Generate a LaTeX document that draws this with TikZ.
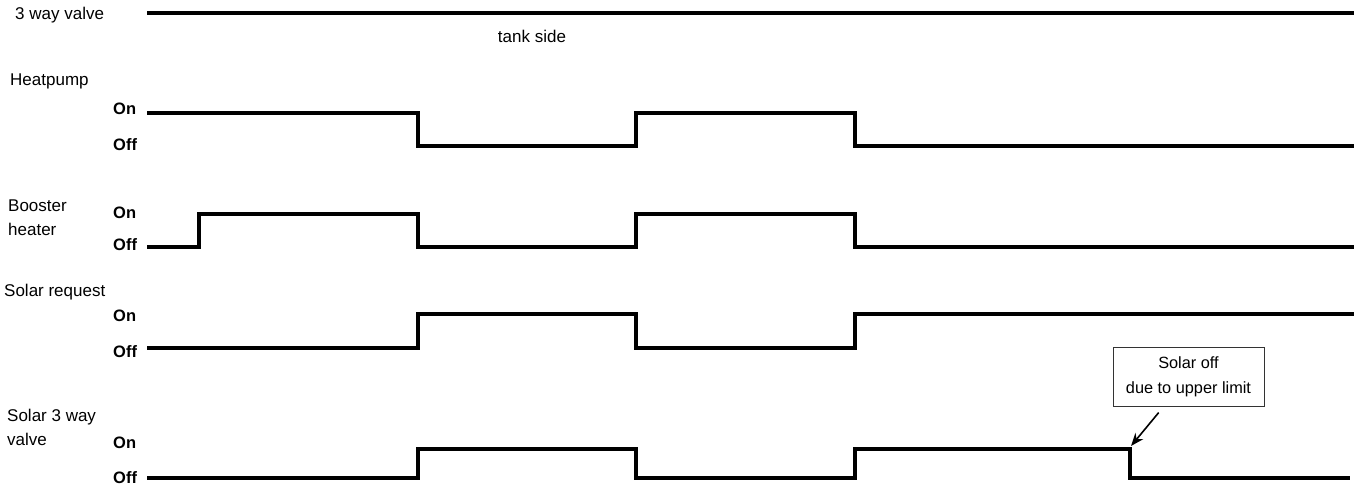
\documentclass[tikz,border=0pt]{standalone}
\usepackage{fontspec}
\setmainfont{Liberation Sans}
\usetikzlibrary{arrows.meta}

\tikzset{
  lbl/.style={anchor=west, inner sep=0pt, font=\fontsize{17}{24}\selectfont, align=left},
  lvl/.style={anchor=west, inner sep=0pt, font=\fontsize{16.5}{20}\selectfont\bfseries},
  sig/.style={line width=4pt, line join=miter},
  note/.style={draw=black!80, line width=0.8pt, inner sep=0pt, minimum width=151pt,
               minimum height=59pt, align=center, font=\fontsize{16.3}{25}\selectfont},
  arr/.style={-{Stealth[length=13pt, width=10pt]}, line width=1.6pt, shorten <=8pt}
}

\begin{document}
\begin{tikzpicture}[x=1pt, y=-1pt]
    % 画布
    \useasboundingbox (0,0) rectangle (1354,488);

    % 三通阀
    \node[lbl] (valve) at (15,15) {3 way valve};
    \draw[sig] (147,13) -- (1354,13);
    \node[lbl, anchor=center] (tank) at (532,36) {tank side};

    % 热泵
    \node[lbl] (hp) at (10,81) {Heatpump};
    \node[lvl] (hpon) at (113,109) {On};
    \node[lvl] (hpoff) at (113,145) {Off};
    \draw[sig] (147,113) -- (418,113) -- (418,146) -- (636,146) -- (636,113)
        -- (855,113) -- (855,146) -- (1354,146);

    % 辅助加热器
    \node[lbl] (boost) at (8,218) {Booster\\heater};
    \node[lvl] (boon) at (113,213) {On};
    \node[lvl] (booff) at (113,245) {Off};
    \draw[sig] (147,247) -- (199,247) -- (199,214) -- (418,214) -- (418,247)
        -- (636,247) -- (636,214) -- (855,214) -- (855,247) -- (1354,247);

    % 太阳能请求
    \node[lbl] (sreq) at (4,292) {Solar request};
    \node[lvl] (sron) at (113,316) {On};
    \node[lvl] (sroff) at (113,352) {Off};
    \draw[sig] (147,348) -- (418,348) -- (418,314) -- (636,314) -- (636,348)
        -- (855,348) -- (855,314) -- (1354,314);

    % 太阳能三通阀
    \node[lbl] (sv) at (7,427) {Solar 3 way\\valve};
    \node[lvl] (svon) at (113,443) {On};
    \node[lvl] (svoff) at (113,478) {Off};
    \draw[sig] (147,478) -- (418,478) -- (418,449) -- (636,449) -- (636,478)
        -- (855,478) -- (855,449) -- (1130,449) -- (1130,478) -- (1350,478);

    % 说明框
    \node[note] (limit) at (1188.5,376.5) {Solar off\\due to upper limit};
    \coordinate (cut) at (1131,446);
    \draw[arr] (limit) -- (cut);

\end{tikzpicture}
\end{document}
